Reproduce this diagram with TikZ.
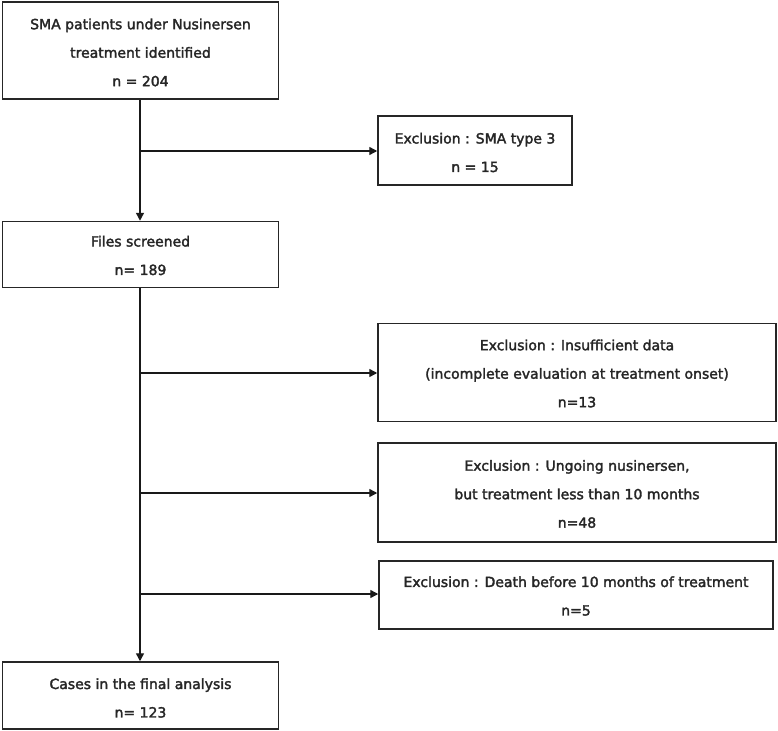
\documentclass[tikz,border=0pt]{standalone}
\usepackage{fontspec}
\newfontfamily\boxfont{DejaVu Sans}[FakeBold=2.2]
\usetikzlibrary{arrows.meta}
\begin{document}
\begin{tikzpicture}[x=1pt,y=-1pt,
  box/.style={draw=black!85,line width=1.5pt,inner sep=0pt},
  txt/.style={align=center,inner sep=0pt,
    font=\boxfont\fontsize{14}{28.5}\selectfont,text=black!85},
  conn/.style={draw=black!90,line width=1.4pt,-{Triangle[length=8pt,width=8pt]}}]
\useasboundingbox (0,0) rectangle (778,730);
\node[box,minimum width=276pt,minimum height=97pt] (b1) at (140.5,50.5) {};
\node[box,minimum width=194pt,minimum height=69pt] (b2) at (475,150.5) {};
\node[box,minimum width=276pt,minimum height=66pt] (b3) at (140.5,254.5) {};
\node[box,minimum width=398pt,minimum height=98pt] (b4) at (577,372.5) {};
\node[box,minimum width=398pt,minimum height=99pt] (b5) at (577,492.5) {};
\node[box,minimum width=394pt,minimum height=68pt] (b6) at (576,595) {};
\node[box,minimum width=276pt,minimum height=67pt] (b7) at (140.5,695.5) {};
\node[txt] (t1) at ([yshift=-2pt]b1.center) {SMA patients under Nusinersen\\treatment identified\\n = 204};
\node[txt] (t2) at ([yshift=-2pt]b2.center) {Exclusion : SMA type 3\\n = 15};
\node[txt] (t3) at ([yshift=-1pt]b3.center) {Files screened\\n= 189};
\node[txt] (t4) at ([yshift=-1pt]b4.center) {Exclusion : Insufficient data\\(incomplete evaluation at treatment onset)\\n=13};
\node[txt] (t5) at ([yshift=-1.5pt]b5.center) {Exclusion : Ungoing nusinersen,\\but treatment less than 10 months\\n=48};
\node[txt] (t6) at ([yshift=-1pt]b6.center) {Exclusion : Death before 10 months of treatment\\n=5};
\node[txt] (t7) at ([yshift=-2.5pt]b7.center) {Cases in the final analysis\\n= 123};
\coordinate (j1) at (140,151);
\coordinate (j2) at (140,373);
\coordinate (j3) at (140,493);
\coordinate (j4) at (140,594);
\draw[conn] (b1.south -| j1) -- (b3.north -| j1);
\draw[conn] (j1) -- (j1 -| b2.west);
\draw[conn] (b3.south -| j2) -- (b7.north -| j2);
\draw[conn] (j2) -- (j2 -| b4.west);
\draw[conn] (j3) -- (j3 -| b5.west);
\draw[conn] (j4) -- (j4 -| b6.west);
\end{tikzpicture}
\end{document}
